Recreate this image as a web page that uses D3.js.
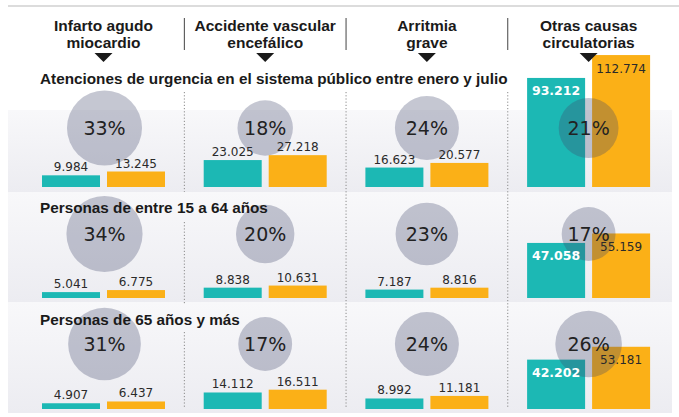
<!DOCTYPE html>
<html><head><meta charset="utf-8">
<script src="https://cdn.jsdelivr.net/npm/d3@7"></script>
<style>html,body{margin:0;padding:0;background:#fff;}svg{display:block;}</style>
</head><body>
<svg id="c" width="679" height="417"></svg>
<script>
// ---- data ----
const categories = ["Infarto agudo miocardio", "Accidente vascular encefálico", "Arritmia grave", "Otras causas circulatorias"];
const headerLines = [["Infarto agudo", "miocardio"], ["Accidente vascular", "encefálico"], ["Arritmia", "grave"], ["Otras causas", "circulatorias"]];
const groups = ["Atenciones de urgencia en el sistema público entre enero y julio", "Personas de entre 15 a 64 años", "Personas de 65 años y más"];
const series = ["anterior", "actual"];
const valuesTeal = [
  [9984, 23025, 16623, 93212],
  [5041, 8838, 7187, 47058],
  [4907, 14112, 8992, 42202]
];
const valuesOrange = [
  [13245, 27218, 20577, 112774],
  [6775, 10631, 8816, 55159],
  [6437, 16511, 11181, 53181]
];
const percents = [
  [33, 18, 24, 21],
  [34, 20, 23, 17],
  [31, 17, 24, 26]
];

// ---- layout ----
const rowBaseline = [187, 298, 409];
const rowCircleY = [128, 234, 344];
const rowTitleY = [84, 213, 325];
const rowPanel = [[110, 192], [192, 302], [302, 413]];
const TEAL = "#1cb8b4", ORANGE = "#fbb017";

const svg = d3.select("#c");
const fmt = d3.formatLocale({decimal: ",", thousands: ".", grouping: [3], currency: ["$", ""]}).format(",d");

const x = d3.scaleBand().domain(categories).range([22.65, 669.45]);
const xs = d3.scaleBand().domain(series).range([-61.5, 61.5]).paddingInner(0.1077);
const h = d3.scaleLinear().domain([0, 120000]).range([0, 140.4]);
const r = d3.scaleSqrt().domain([0, 100]).range([0, 65.3]);
const cx = c => x(c) + x.bandwidth() / 2;

const defs = svg.append("defs");
const grad = defs.append("linearGradient").attr("id", "pg").attr("x1", 0).attr("x2", 0).attr("y1", 0).attr("y2", 1);
grad.append("stop").attr("offset", "0").attr("stop-color", "#f8f8fa");
grad.append("stop").attr("offset", "1").attr("stop-color", "#ececf1");

// top line
svg.append("line").attr("x1", 8).attr("x2", 679).attr("y1", 6).attr("y2", 6)
  .attr("stroke", "#d0d0d0").attr("stroke-width", 1.5);

// panels
svg.selectAll("rect.panel").data(rowPanel).join("rect").attr("class", "panel")
  .attr("x", 8).attr("width", 664).attr("y", d => d[0]).attr("height", d => d[1] - d[0])
  .attr("fill", "url(#pg)");

// dotted separators
const seps = categories.slice(1).map(c => x(c));
const sepSegs = [
  [seps[0], 92, 192], [seps[0], 222, 305], [seps[0], 332, 408],
  [seps[1], 92, 408], [seps[2], 92, 408]
];
svg.selectAll("line.sep").data(sepSegs).join("line").attr("class", "sep")
  .attr("x1", d => d[0]).attr("x2", d => d[0]).attr("y1", d => d[1]).attr("y2", d => d[2])
  .attr("stroke", "#8a8a8a").attr("stroke-width", 1).attr("stroke-dasharray", "1.2,2");

// header solid separators
svg.selectAll("line.hsep").data(seps).join("line").attr("class", "hsep")
  .attr("x1", d => d).attr("x2", d => d).attr("y1", 18).attr("y2", 50)
  .attr("stroke", "#444").attr("stroke-width", 1);

// build cell data
const cells = [];
groups.forEach((g, gi) => categories.forEach((c, ci) => {
  cells.push({gi, ci, c, teal: valuesTeal[gi][ci], orange: valuesOrange[gi][ci], pct: percents[gi][ci]});
}));
const bars = [];
cells.forEach(d => {
  bars.push({...d, s: "anterior", v: d.teal, color: TEAL});
  bars.push({...d, s: "actual", v: d.orange, color: ORANGE});
});

// bars
svg.selectAll("rect.bar").data(bars).join("rect").attr("class", "bar")
  .attr("x", d => cx(d.c) + xs(d.s)).attr("width", xs.bandwidth())
  .attr("y", d => rowBaseline[d.gi] - h(d.v)).attr("height", d => h(d.v))
  .attr("fill", d => d.color);

// circles
svg.selectAll("circle.pct").data(cells).join("circle").attr("class", "pct")
  .attr("cx", d => cx(d.c) + (d.ci === 0 ? 1 : 0)).attr("cy", d => rowCircleY[d.gi]).attr("r", d => r(d.pct))
  .attr("fill", "#3e4569").attr("fill-opacity", 0.3);

// bar labels
const inside = d => h(d.v) > 40;
svg.selectAll("text.val").data(bars).join("text").attr("class", "val")
  .attr("x", d => cx(d.c) + xs(d.s) + xs.bandwidth() / 2)
  .attr("y", d => inside(d) ? rowBaseline[d.gi] - h(d.v) + 17.5 : rowBaseline[d.gi] - h(d.v) - 4)
  .attr("text-anchor", "middle")
  .attr("font-family", "'DejaVu Sans', sans-serif")
  .attr("font-size", d => inside(d) && d.s === "anterior" ? 12.5 : 12)
  .attr("font-weight", d => inside(d) && d.s === "anterior" ? "bold" : "normal")
  .attr("fill", d => inside(d) && d.s === "anterior" ? "#ffffff" : "#2a2a2a")
  .text(d => fmt(d.v));

// percent labels
svg.selectAll("text.pctl").data(cells).join("text").attr("class", "pctl")
  .attr("x", d => cx(d.c) + (d.ci === 0 ? 1 : 0)).attr("y", d => rowCircleY[d.gi] + 7)
  .attr("text-anchor", "middle")
  .attr("font-family", "'DejaVu Sans', sans-serif").attr("font-size", 19)
  .attr("fill", "#222")
  .text(d => d.pct + "%");

// row titles
svg.selectAll("text.gt").data(groups).join("text").attr("class", "gt")
  .attr("x", 40).attr("y", (d, i) => rowTitleY[i])
  .attr("font-family", "'Liberation Sans', Arial, sans-serif").attr("font-weight", "bold").attr("font-size", 15.3)
  .attr("fill", "#1a1a1a")
  .text(d => d);

// column headers
const hd = svg.selectAll("g.hd").data(categories).join("g").attr("class", "hd")
  .attr("transform", d => `translate(${cx(d)},0)`);
hd.each(function(d, i) {
  const g = d3.select(this);
  headerLines[i].forEach((ln, li) => {
    g.append("text").attr("x", 0).attr("y", 31 + li * 17).attr("text-anchor", "middle")
      .attr("font-family", "'Liberation Sans', Arial, sans-serif").attr("font-weight", "bold").attr("font-size", 15.5)
      .attr("fill", "#1a1a1a").text(ln);
  });
  g.append("path").attr("d", "M-9,53 L9,53 L0,62 Z").attr("fill", "#1a1a1a");
});
</script>
</body></html>
